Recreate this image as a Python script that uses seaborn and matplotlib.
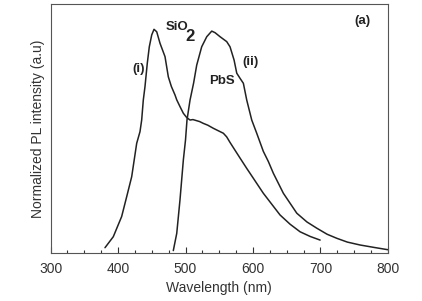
import matplotlib
matplotlib.use("Agg")
import matplotlib.pyplot as plt
import pandas as pd
import seaborn as sns
from matplotlib.ticker import MultipleLocator

# curve (i): SiO2
wl_sio2 = [380.6, 392.9, 405.3, 412.8, 420.2, 427.6, 432.5, 435, 437.4, 439.9, 443.3, 446.3,
           449.9, 453.3, 457.3, 462.2, 469.6, 474.5, 479, 484.4, 487, 491.8, 496.8, 501.8,
           506.7, 511, 516.6, 521, 526.4, 533, 541.3, 548, 556.1, 561, 566, 573, 580.9,
           590.8, 595.7, 615.4, 640.2, 655, 669.9, 685, 699.6]
pl_sio2 = [0.025, 0.074, 0.164, 0.253, 0.342, 0.491, 0.543, 0.595, 0.684, 0.744, 0.848, 0.922,
           0.975, 1.0, 0.989, 0.9375, 0.878, 0.788, 0.745, 0.707, 0.685, 0.655, 0.625, 0.606,
           0.595, 0.597, 0.592, 0.588, 0.58, 0.572, 0.558, 0.548, 0.536, 0.52, 0.495, 0.462, 0.425,
           0.379, 0.357, 0.268, 0.171, 0.13, 0.096, 0.075, 0.059]

# curve (ii): PbS
wl_pbs = [481.9, 487, 491.8, 496.8, 500, 502.2, 506.7, 512, 516.6, 524, 531.5, 538.9, 543.8,
          551.2, 561.1, 566, 572, 576, 580.9, 585.8, 590.8, 598.2, 605.6, 615.4, 622.8, 630.3,
          645.1, 665, 680, 694.7, 710, 724.3, 740, 758.9, 780, 800]
pl_pbs = [0.012, 0.089, 0.238, 0.417, 0.506, 0.595, 0.684, 0.76, 0.84, 0.922, 0.967, 0.992, 0.985,
          0.967, 0.945, 0.922, 0.863, 0.804, 0.781, 0.759, 0.684, 0.595, 0.536, 0.455, 0.41, 0.357,
          0.268, 0.179, 0.14, 0.112, 0.085, 0.067, 0.05, 0.037, 0.026, 0.016]

df = pd.concat([
    pd.DataFrame({"wl": wl_sio2, "pl": pl_sio2, "sample": "SiO2"}),
    pd.DataFrame({"wl": wl_pbs, "pl": pl_pbs, "sample": "PbS"}),
])

sns.set_style("ticks")
plt.rcParams["font.family"] = ["Liberation Sans", "DejaVu Sans"]

fig = plt.figure(figsize=(4.22, 3.01), dpi=100)
ax = fig.add_axes([0.120, 0.1585, 0.799, 0.8282])

sns.lineplot(data=df, x="wl", y="pl", hue="sample", palette=["#222222", "#222222"],
             sort=False, estimator=None, linewidth=1.1, legend=False, ax=ax)

ax.set_xlim(300, 800)
ax.set_ylim(0, 1.113)
ax.xaxis.set_major_locator(MultipleLocator(100))
ax.xaxis.set_minor_locator(MultipleLocator(25))
ax.set_yticks([])
ax.tick_params(axis="x", which="major", direction="in", length=4, width=0.8, pad=6,
               labelsize=10, colors="#333333", labelcolor="#333333")
ax.tick_params(axis="x", which="minor", direction="in", length=2, width=0.8, colors="#333333")
for s in ax.spines.values():
    s.set_color("#555555")
    s.set_linewidth(0.8)

ax.set_xlabel("Wavelength (nm)", fontsize=10, color="#333333", labelpad=4)
ax.set_ylabel("Normalized PL intensity (a.u)", fontsize=10, color="#333333", labelpad=4)

tk = dict(fontsize=9.5, fontweight="bold", color="#222222", ha="center", va="center")
ax.text(762.6, 1.037, "(a)", **tk)
ax.text(431, 0.823, "(i)", **tk)
ax.text(595.7, 0.852, "(ii)", **tk)
ax.text(554.2, 0.771, "PbS", **tk)
ax.text(487.4, 1.012, "SiO", **tk)
ax.text(506.7, 0.97, "2", fontsize=12, fontweight="bold", color="#222222", ha="center", va="center")

fig.savefig("out.png", dpi=100)
